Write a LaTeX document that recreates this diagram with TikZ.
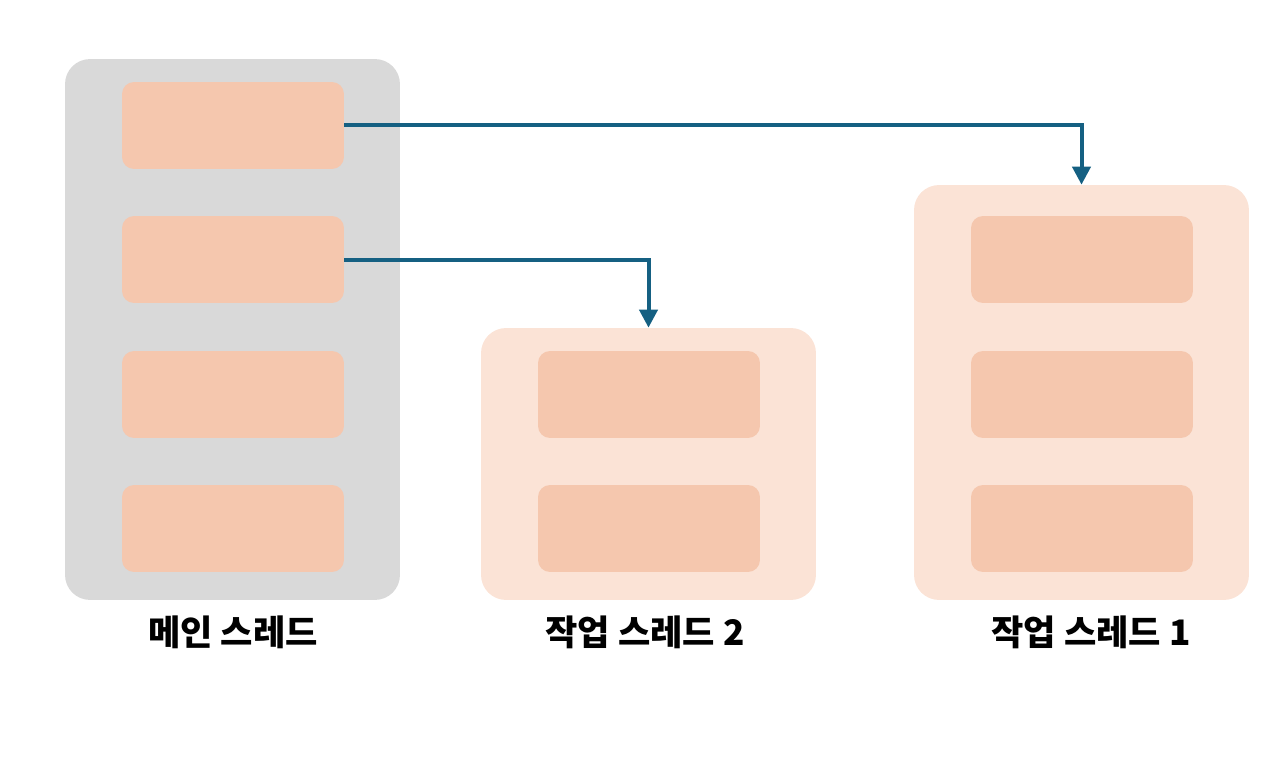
\documentclass[tikz,border=0pt]{standalone}
\usepackage{fontspec}
\newfontfamily\kr{Noto Sans CJK KR}
\usepackage{xcolor}
\usepackage{tikz}
\usetikzlibrary{arrows.meta}
\definecolor{mainbg}{HTML}{D9D9D9}
\definecolor{workbg}{HTML}{FBE3D6}
\definecolor{taskfill}{HTML}{F5C7AE}
\definecolor{arrowblue}{HTML}{156082}
\tikzstyle{arrow} = [-{Triangle[width=0.36cm,length=0.36cm]}, line width=0.08cm, arrowblue]
\tikzstyle{task} = [fill=taskfill, rounded corners=0.24cm, minimum width=4.44cm, minimum height=1.74cm, inner sep=0pt]
\tikzstyle{thread} = [rounded corners=0.5cm, minimum width=6.7cm, inner sep=0pt]
\tikzstyle{label} = [font=\kr\bfseries\fontsize{20}{24}\selectfont, inner sep=0pt]

\begin{document}
\begin{tikzpicture}[x=0.02cm, y=-0.02cm]
		\useasboundingbox (0,0) rectangle (1282,757);
		% containers
		\node (main) [thread, fill=mainbg, minimum height=10.82cm] at (232.5,329.5) {};
		\node (w2) [thread, fill=workbg, minimum height=5.44cm] at (648.5,464) {};
		\node (w1) [thread, fill=workbg, minimum height=8.3cm] at (1081.5,392.5) {};

		% main thread tasks
		\node (m1) [task] at (233,125.5) {};
		\node (m2) [task] at (233,259.5) {};
		\node (m3) [task] at (233,394.5) {};
		\node (m4) [task] at (233,528.5) {};

		% worker tasks
		\node (b1) [task] at (649,394.5) {};
		\node (b2) [task] at (649,528.5) {};
		\node (a1) [task] at (1082,259.5) {};
		\node (a2) [task] at (1082,394.5) {};
		\node (a3) [task] at (1082,528.5) {};

		% labels
		\node (lmain) [label] at (233,632) {메인 스레드};
		\node (lw2) [label] at (645,632) {작업 스레드 2};
		\node (lw1) [label] at (1091,632) {작업 스레드 1};

		\draw [arrow] (m1.east) -| (w1.north);
		\draw [arrow] (m2.east) -| (w2.north);
	\end{tikzpicture}
\end{document}
